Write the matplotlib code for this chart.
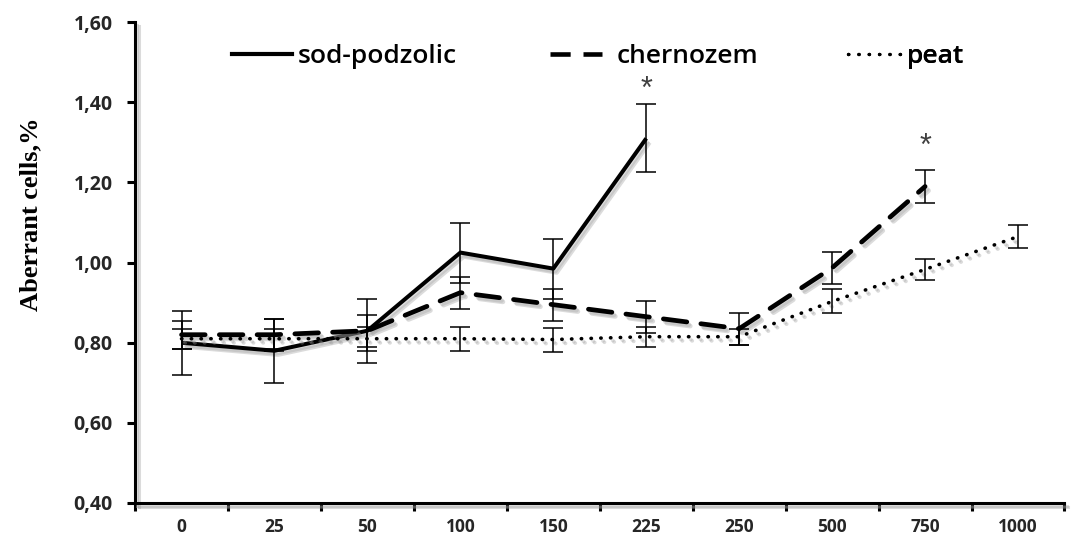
import numpy as np
import matplotlib
matplotlib.use("Agg")
import matplotlib.pyplot as plt
import matplotlib.patheffects as pe
from matplotlib.lines import Line2D

# doses (category labels)
doses = ["0", "25", "50", "100", "150", "225", "250", "500", "750", "1000"]

sod_mean = [0.80, 0.78, 0.83, 1.025, 0.985, 1.31]
sod_err = [0.08, 0.08, 0.08, 0.075, 0.075, 0.085]

cher_mean = [0.82, 0.82, 0.83, 0.925, 0.895, 0.865, 0.835, 0.987, 1.19]
cher_err = [0.035, 0.04, 0.04, 0.04, 0.04, 0.04, 0.04, 0.04, 0.04]

peat_mean = [0.81, 0.81, 0.81, 0.81, 0.808, 0.815, 0.815, 0.903, 0.983, 1.065]
peat_err = [0.025, 0.025, 0.03, 0.03, 0.03, 0.025, 0.02, 0.03, 0.027, 0.028]

yticks = [0.40, 0.60, 0.80, 1.00, 1.20, 1.40, 1.60]
legend_names = ["sod-podzolic", "chernozem", "peat"]

x = np.arange(len(doses))
shadow = [pe.SimpleLineShadow(offset=(2.5, -3), shadow_color="0.6", alpha=0.35),
          pe.SimpleLineShadow(offset=(1.5, -2), shadow_color="0.6", alpha=0.3),
          pe.Normal()]

fig = plt.figure(figsize=(10.72, 5.42), dpi=100)
ax = fig.add_axes([0.126, 0.072, 0.867, 0.887])

ax.plot(x[:len(sod_mean)], sod_mean, color="black", lw=2.9, ls="-",
        solid_capstyle="butt", path_effects=shadow)
ax.plot(x[:len(cher_mean)], cher_mean, color="black", lw=3.4, ls=(0, (5.0, 3.0)),
        dash_capstyle="round", path_effects=shadow)
ax.plot(x, peat_mean, color="black", lw=2.6, ls=(0, (0.1, 2.6)),
        dash_capstyle="round", path_effects=shadow)

eb = dict(fmt="none", ecolor="black", elinewidth=1.1, capsize=7, capthick=1.1)
ax.errorbar(x[:len(sod_mean)], sod_mean, yerr=sod_err, **eb)
ax.errorbar(x[:len(cher_mean)], cher_mean, yerr=cher_err, **eb)
ax.errorbar(x, peat_mean, yerr=peat_err, **eb)

# significance marks
ax.text(5, 1.43, "*", ha="center", va="center", fontsize=22, family="Liberation Sans", color="0.25")
ax.text(8, 1.29, "*", ha="center", va="center", fontsize=22, family="Liberation Sans", color="0.25")

ax.set_xlim(-0.5, len(doses) - 0.5)
ax.set_ylim(0.40, 1.60)
ax.set_yticks(yticks)
ax.set_yticklabels([f"{v:.2f}".replace(".", ",") for v in yticks])

ax.set_xticks(np.arange(-0.5, len(doses), 1.0))
ax.set_xticklabels([])
ax.set_xticks(x, minor=True)
ax.set_xticklabels(doses, minor=True)
ax.tick_params(axis="x", which="minor", length=0, pad=11)
ax.tick_params(axis="both", which="major", length=6, width=2.2, direction="out")
ax.tick_params(axis="y", pad=10)

for lab in ax.get_xticklabels(minor=True):
    lab.set_family("Open Sans")
    lab.set_fontweight("bold")
    lab.set_fontsize(12.5)
    lab.set_color("0.15")
for lab in ax.get_yticklabels():
    lab.set_family("Open Sans")
    lab.set_fontweight("bold")
    lab.set_fontsize(14)
    lab.set_color("0.15")

for s in ["top", "right"]:
    ax.spines[s].set_visible(False)
for s in ["left", "bottom"]:
    ax.spines[s].set_linewidth(2.2)
    ax.spines[s].set_path_effects(shadow)

ax.set_ylabel("Aberrant cells,%", family="Liberation Serif", fontweight="bold", fontsize=19)
ax.yaxis.set_label_coords(-0.1, 0.6)

# legend: three separate entries like the original
handles = [Line2D([], [], color="black", lw=3, ls="-"),
           Line2D([], [], color="black", lw=3.3, ls=(0, (4.4, 2.8))),
           Line2D([], [], color="black", lw=2.4, ls=(0, (0.1, 3.0)), dash_capstyle="round")]
lens = [2.27, 2.0, 2.1]
pads = [0.23, 0.55, 0.15]
anchors = [0.104, 0.446, 0.767]
for h, name, hl, tp, a in zip(handles, legend_names, lens, pads, anchors):
    lg = ax.legend([h], [name], loc="center left", bbox_to_anchor=(a, 0.929), frameon=False,
                   handlelength=hl, handletextpad=tp, borderaxespad=0, borderpad=0,
                   prop={"family": "Open Sans", "size": 19, "weight": "semibold"})
    ax.add_artist(lg)

fig.savefig("out.png", dpi=100)
